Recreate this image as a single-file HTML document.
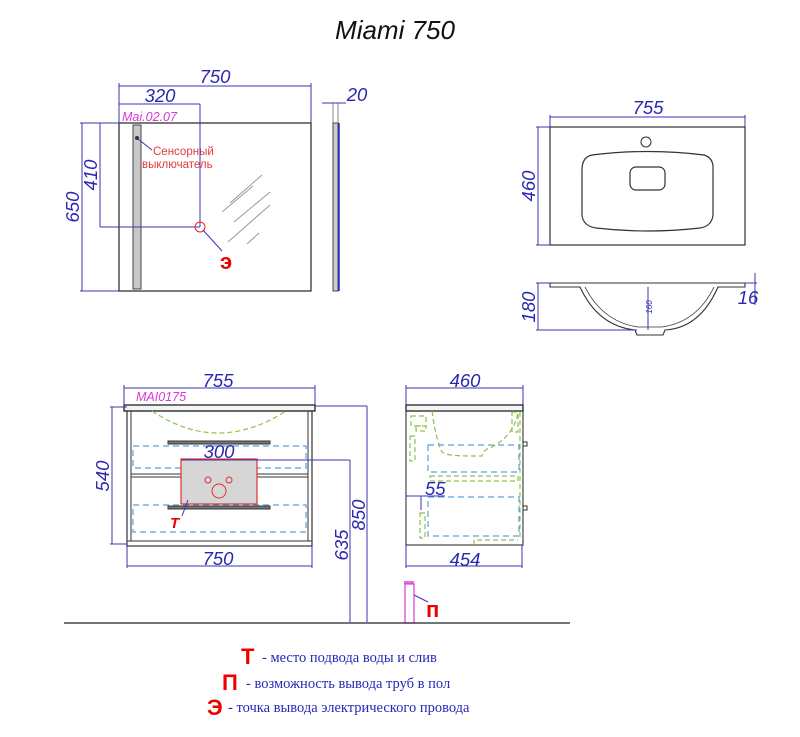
<!DOCTYPE html>
<html><head><meta charset="utf-8"><style>
html,body{margin:0;padding:0;background:#fff}
svg{display:block}
.d{stroke:#3a35b0;stroke-width:1;fill:none}
.k{stroke:#333;fill:none}
.t{font-family:"Liberation Sans",sans-serif;font-style:italic;fill:#2a27b0;font-size:18.5px}
.gd{stroke:#8bc34a;stroke-width:1.2;fill:none;stroke-dasharray:5 3}
.bd{stroke:#5aa0dd;stroke-width:1.2;fill:none;stroke-dasharray:6 4}
</style></head><body>
<svg width="800" height="737" viewBox="0 0 800 737" xmlns="http://www.w3.org/2000/svg">
<text x="395" y="39" text-anchor="middle" font-family="Liberation Sans,sans-serif" font-style="italic" font-size="26" fill="#111">Miami 750</text>

<!-- Mirror -->
<rect x="119" y="123" width="192" height="168" class="k" stroke-width="1.3"/>
<rect x="133" y="125" width="8" height="164" fill="#c8c8c8" stroke="#444"/>
<circle cx="137" cy="138" r="2" fill="#333"/>
<line x1="138" y1="139" x2="152" y2="150" class="d"/>
<text x="153" y="155" font-family="Liberation Sans,sans-serif" font-size="11.5" fill="#e23a3a">Сенсорный</text>
<text x="142" y="168" font-family="Liberation Sans,sans-serif" font-size="11.5" fill="#e23a3a">выключатель</text>
<g stroke="#999" stroke-width="1">
<line x1="230" y1="203" x2="262" y2="175"/><line x1="222" y1="212" x2="253" y2="186"/>
<line x1="234" y1="222" x2="270" y2="192"/><line x1="228" y1="242" x2="270" y2="205"/>
<line x1="247" y1="244" x2="259" y2="233"/></g>
<line x1="119" y1="123" x2="119" y2="83" class="d"/><line x1="311" y1="123" x2="311" y2="83" class="d"/>
<line x1="119" y1="86" x2="311" y2="86" class="d"/>
<text x="215" y="83" text-anchor="middle" class="t">750</text>
<line x1="119" y1="104" x2="200" y2="104" class="d"/>
<text x="160" y="102" text-anchor="middle" class="t">320</text>
<text x="122" y="121" font-family="Liberation Sans,sans-serif" font-style="italic" font-size="12.5" fill="#d838d8">Mai.02.07</text>
<line x1="200" y1="104" x2="200" y2="227" class="d"/>
<line x1="100" y1="227" x2="200" y2="227" class="d"/>
<line x1="100" y1="123" x2="100" y2="227" class="d"/>
<line x1="80" y1="123" x2="119" y2="123" class="d"/>
<line x1="82" y1="123" x2="82" y2="291" class="d"/>
<line x1="80" y1="291" x2="119" y2="291" class="d"/>
<text transform="translate(97,175) rotate(-90)" text-anchor="middle" class="t">410</text>
<text transform="translate(79,207) rotate(-90)" text-anchor="middle" class="t">650</text>
<circle cx="200" cy="227" r="5" fill="none" stroke="#e22"/>
<line x1="203" y1="230" x2="222" y2="251" class="d"/>
<text x="220" y="269" font-family="Liberation Sans,sans-serif" font-weight="bold" font-size="22" fill="#e00">э</text>
<!-- side mirror -->
<rect x="333" y="103" width="5" height="20" fill="none" stroke="#888"/>
<rect x="333" y="123" width="5" height="168" fill="#ccc" stroke="#444"/>
<line x1="339" y1="123" x2="339" y2="291" stroke="#2a27d8" stroke-width="1.5"/>
<line x1="322" y1="103" x2="346" y2="103" class="d"/>
<text x="357" y="101" text-anchor="middle" class="t">20</text>

<!-- Sink top -->
<rect x="550" y="127" width="195" height="118" class="k" stroke-width="1.2"/>
<line x1="550" y1="127" x2="550" y2="115" class="d"/><line x1="745" y1="127" x2="745" y2="115" class="d"/>
<line x1="550" y1="117" x2="745" y2="117" class="d"/>
<text x="648" y="114" text-anchor="middle" class="t">755</text>
<line x1="536" y1="127" x2="550" y2="127" class="d"/><line x1="536" y1="245" x2="550" y2="245" class="d"/>
<line x1="538" y1="127" x2="538" y2="245" class="d"/>
<text transform="translate(535,186) rotate(-90)" text-anchor="middle" class="t">460</text>
<circle cx="646" cy="142" r="5" class="k"/>
<path d="M592 155 Q648 148 704 155 Q714 158 713 170 L713 215 Q712 226 700 228 Q648 234 596 228 Q583 226 582 215 L582 170 Q582 157 592 155 Z" class="k" stroke-width="1.2"/>
<rect x="630" y="167" width="35" height="23" rx="6" class="k" stroke-width="1.2"/>
<!-- sink side -->
<path d="M550 283 L745 283 L745 287 L718 287 Q700 328 665 330 L663 335 L637 335 L635 330 Q598 326 580 287 L550 287 Z" class="k" stroke-width="1.1"/>
<path d="M585 287 Q603 322 638 327 L662 327 Q697 322 714 287" class="k" stroke-width="0.8"/>
<line x1="648" y1="287" x2="648" y2="330" class="d" stroke-width="0.7"/>
<text transform="translate(652,307) rotate(-90)" text-anchor="middle" font-family="Liberation Sans,sans-serif" font-size="8" font-style="italic" fill="#2a27b8">160</text>
<line x1="536" y1="283" x2="550" y2="283" class="d"/><line x1="536" y1="330" x2="637" y2="330" class="d"/>
<line x1="538" y1="283" x2="538" y2="330" class="d"/>
<text transform="translate(535,307) rotate(-90)" text-anchor="middle" class="t">180</text>
<line x1="755" y1="273" x2="755" y2="305" class="d"/>
<line x1="745" y1="283" x2="757" y2="283" class="d"/>
<text x="748" y="304" text-anchor="middle" class="t">16</text>

<!-- Cabinet front -->
<rect x="124" y="405" width="191" height="6" fill="#f4f4f4" stroke="#222" stroke-width="1.3"/>
<rect x="127" y="411" width="185" height="135" class="k" stroke-width="1.2"/>
<line x1="131" y1="411" x2="131" y2="541" stroke="#333"/><line x1="308" y1="411" x2="308" y2="541" stroke="#333"/>
<line x1="127" y1="541" x2="312" y2="541" stroke="#333"/>
<rect x="131" y="474" width="177" height="3" fill="#fff" stroke="#333"/>
<path d="M152 411 Q218 455 286 411" class="gd" stroke-dasharray="4 2"/>
<rect x="168" y="441" width="102" height="3" fill="#777" stroke="#333"/>
<rect x="168" y="506" width="102" height="3" fill="#777" stroke="#333"/>
<rect x="133" y="446" width="173" height="22" class="bd"/>
<rect x="133" y="505" width="173" height="27" class="bd"/>
<rect x="181" y="459" width="76" height="45" fill="#d6d6d6" stroke="#e03030" stroke-width="1.2"/>
<circle cx="208" cy="480" r="3" fill="none" stroke="#e03030"/>
<circle cx="229" cy="480" r="3" fill="none" stroke="#e03030"/>
<circle cx="219" cy="491" r="7" fill="none" stroke="#e03030"/>
<line x1="188" y1="500" x2="182" y2="516" class="d"/>
<text x="170" y="528" font-family="Liberation Sans,sans-serif" font-style="italic" font-weight="bold" font-size="15" fill="#e00">T</text>
<line x1="124" y1="405" x2="124" y2="385" class="d"/><line x1="315" y1="405" x2="315" y2="385" class="d"/>
<line x1="124" y1="388" x2="315" y2="388" class="d"/>
<text x="218" y="387" text-anchor="middle" class="t">755</text>
<text x="136" y="401" font-family="Liberation Sans,sans-serif" font-style="italic" font-size="12.5" fill="#d838d8">MAI0175</text>
<line x1="110" y1="407" x2="127" y2="407" class="d"/><line x1="110" y1="544" x2="127" y2="544" class="d"/>
<line x1="112" y1="407" x2="112" y2="544" class="d"/>
<text transform="translate(109,476) rotate(-90)" text-anchor="middle" class="t">540</text>
<line x1="127" y1="546" x2="127" y2="568" class="d"/><line x1="312" y1="546" x2="312" y2="568" class="d"/>
<line x1="127" y1="566" x2="312" y2="566" class="d"/>
<text x="218" y="565" text-anchor="middle" class="t">750</text>
<line x1="181" y1="460" x2="350" y2="460" class="d"/>
<text x="219" y="458" text-anchor="middle" class="t">300</text>
<line x1="350" y1="460" x2="350" y2="622" class="d"/>
<line x1="315" y1="406" x2="367" y2="406" class="d"/>
<line x1="367" y1="406" x2="367" y2="622" class="d"/>
<text transform="translate(348,545) rotate(-90)" text-anchor="middle" class="t">635</text>
<text transform="translate(365,515) rotate(-90)" text-anchor="middle" class="t">850</text>

<!-- Cabinet side -->
<rect x="406" y="405" width="117" height="6" fill="#f4f4f4" stroke="#222" stroke-width="1.3"/>
<rect x="406" y="411" width="117" height="134" class="k" stroke-width="1.1"/>
<line x1="406" y1="385" x2="406" y2="405" class="d"/><line x1="523" y1="385" x2="523" y2="405" class="d"/>
<line x1="406" y1="388" x2="523" y2="388" class="d"/>
<text x="465" y="387" text-anchor="middle" class="t">460</text>
<line x1="406" y1="545" x2="406" y2="568" class="d"/><line x1="522" y1="545" x2="522" y2="568" class="d"/>
<line x1="406" y1="566" x2="522" y2="566" class="d"/>
<text x="465" y="566" text-anchor="middle" class="t">454</text>
<rect x="411" y="416" width="15" height="10" class="gd" stroke-dasharray="3 2"/>
<rect x="416" y="426" width="10" height="5" class="gd" stroke-dasharray="2 1"/>
<rect x="410" y="436" width="5" height="25" class="gd"/>
<path d="M432 411 Q436 440 442 452 Q446 456 470 456 L482 456 Q484 449 490 448 Q513 437 518 413" class="gd"/>
<rect x="512" y="412" width="6" height="20" class="gd"/>
<line x1="520" y1="412" x2="520" y2="540" class="gd"/>
<rect x="430" y="476" width="88" height="5" class="gd"/>
<rect x="420" y="513" width="5" height="25" class="gd"/>
<path d="M474 545 L474 540 L518 540" class="gd"/>
<rect x="428" y="445" width="91" height="27" class="bd"/>
<rect x="428" y="497" width="91" height="39" class="bd"/>
<rect x="523" y="442" width="4" height="4" fill="#fff" stroke="#333"/>
<rect x="523" y="506" width="4" height="4" fill="#fff" stroke="#333"/>
<line x1="406" y1="496" x2="445" y2="496" class="d"/>
<line x1="421" y1="496" x2="421" y2="510" class="d"/>
<text x="425" y="495" class="t">55</text>

<!-- pipe & floor -->
<rect x="404" y="581" width="10" height="3" fill="#e070e0"/>
<rect x="405" y="584" width="9" height="39" fill="#fff" stroke="#d838d8" stroke-width="1.2"/>
<line x1="414" y1="595" x2="428" y2="602" class="d"/>
<text x="426" y="617" font-family="Liberation Sans,sans-serif" font-weight="bold" font-size="22" fill="#e00">п</text>
<line x1="64" y1="623" x2="570" y2="623" stroke="#222" stroke-width="1.2"/>

<!-- legend -->
<g font-family="Liberation Serif,serif" font-size="14.5" fill="#2a27b8">
<text x="241" y="664" font-family="Liberation Sans,sans-serif" font-weight="bold" font-size="22" fill="#e00">Т</text>
<text x="262" y="662">- место подвода воды и слив</text>
<text x="222" y="690" font-family="Liberation Sans,sans-serif" font-weight="bold" font-size="22" fill="#e00">П</text>
<text x="246" y="688">- возможность вывода труб в пол</text>
<text x="207" y="715" font-family="Liberation Sans,sans-serif" font-weight="bold" font-size="22" fill="#e00">Э</text>
<text x="228" y="712">-  точка вывода электрического провода</text>
</g>
</svg>
</body></html>
